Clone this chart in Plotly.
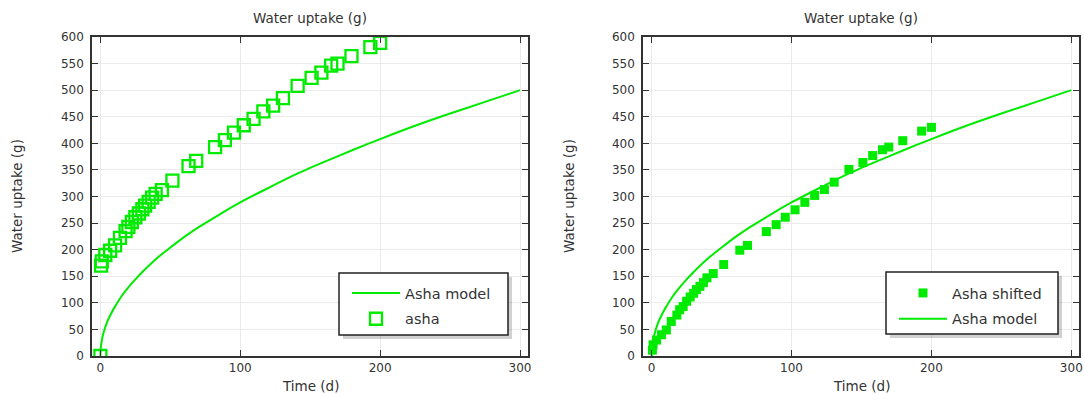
import plotly.graph_objects as go

# ---- data ----
model_t = [0, 0.25, 1, 2.5, 5, 7.5, 10, 15, 20, 25, 30, 40, 50, 60, 70, 80, 90, 100,
           120, 140, 160, 180, 200, 225, 250, 275, 300]
model_y = [0, 14, 29, 46, 65, 79, 91, 112, 129, 144, 158, 183, 204, 224, 242, 258, 274, 289,
           316, 342, 365, 387, 408, 433, 456, 478, 500]

time_d = [0.5, 1, 3.5, 7, 10.5, 14, 18, 20, 22.5, 25, 27.5, 30, 32, 34.5, 37, 39.5, 44, 51.5,
          63, 68.5, 82, 89, 95.5, 102.5, 109.5, 116.5, 123.5, 130.5, 141, 151, 158, 165, 169.5,
          179.5, 193, 200]
asha = [170, 178, 190, 198, 208, 222, 235, 243, 252, 261, 268, 276, 283, 290, 298, 305, 312, 330,
        357, 367, 393, 406, 420, 434, 446, 460, 471, 485, 508, 523, 533, 546, 550,
        564, 581, 589]
asha_origin_t = [0]
asha_origin_y = [0]
asha_shifted = [11, 21, 30, 40, 49, 65, 77, 87, 93, 103, 111, 118, 125, 131, 138, 147, 155, 172,
                199, 208, 234, 247, 261, 275, 289, 302, 313, 327, 351, 364, 377, 388, 393,
                405, 423, 430]

x_ticks = [0, 100, 200, 300]
y_ticks = list(range(0, 601, 50))

GREEN = "#00eb00"
FONT = "DejaVu Sans"
W, H = 1084, 394

def px(x):
    return x / W

def py(y):
    return 1 - y / H

fig = go.Figure()

# left panel
fig.add_trace(go.Scatter(x=model_t, y=model_y, mode="lines", name="Asha model",
                         line=dict(color=GREEN, width=2, shape="spline", smoothing=0.8),
                         xaxis="x", yaxis="y", legend="legend", legendgroup="a1"))
fig.add_trace(go.Scatter(x=asha_origin_t + time_d, y=asha_origin_y + asha, mode="markers", name="asha",
                         marker=dict(symbol="square-open", size=12, color=GREEN,
                                     line=dict(width=2.3, color=GREEN)),
                         xaxis="x", yaxis="y", legend="legend", legendgroup="a2"))
# right panel
fig.add_trace(go.Scatter(x=time_d, y=asha_shifted, mode="markers", name="Asha shifted",
                         marker=dict(symbol="square", size=9, color=GREEN),
                         xaxis="x2", yaxis="y2", legend="legend2", legendgroup="b1"))
fig.add_trace(go.Scatter(x=model_t, y=model_y, mode="lines", name="Asha model",
                         line=dict(color=GREEN, width=2, shape="spline", smoothing=0.8),
                         xaxis="x2", yaxis="y2", legend="legend2", legendgroup="b2"))

L = (92, 528)
R = (643, 1079)
TOP, BOT = 37, 356

axis_common = dict(showline=True, linecolor="#333333", linewidth=1.5, mirror="allticks",
                   ticks="inside", ticklen=6, tickwidth=1.3, tickcolor="#333333",
                   showgrid=True, gridcolor="#ebebeb", gridwidth=1, zeroline=False,
                   automargin=False,
                   tickfont=dict(family=FONT, size=12, color="#333333"))

legend_common = dict(xanchor="left", yanchor="top", bgcolor="rgba(0,0,0,0)", borderwidth=0,
                     itemwidth=48, traceorder="grouped", tracegroupgap=4,
                     font=dict(family=FONT, size=14.5, color="#333333"))

fig.update_layout(
    width=W, height=H, autosize=False,
    margin=dict(l=0, r=0, t=0, b=0, pad=0),
    paper_bgcolor="white", plot_bgcolor="white",
    font=dict(family=FONT, color="#333333"),
    xaxis=dict(domain=[px(L[0]), px(L[1])], range=[-6, 305.7], tickvals=x_ticks,
               anchor="y", **axis_common),
    yaxis=dict(domain=[py(BOT), py(TOP)], range=[0, 600], tickvals=y_ticks,
               anchor="x", ticklabelstandoff=4, **axis_common),
    xaxis2=dict(domain=[px(R[0]), px(R[1])], range=[-6.2, 305.5], tickvals=x_ticks,
                anchor="y2", **axis_common),
    yaxis2=dict(domain=[py(BOT), py(TOP)], range=[0, 600], tickvals=y_ticks,
                anchor="x2", ticklabelstandoff=4, **axis_common),
    legend=dict(x=px(347), y=py(277), **legend_common),
    legend2=dict(x=px(894), y=py(277), **legend_common),
    showlegend=True,
)

# legend boxes with shadow
for (x0, x1, y0, y1) in [(339, 508, 273, 335), (886, 1058, 272, 334)]:
    fig.add_shape(type="rect", xref="paper", yref="paper",
                  x0=px(x0 + 4), x1=px(x1 + 4), y0=py(y1 + 4), y1=py(y0 + 4),
                  line=dict(width=0), fillcolor="rgba(0,0,0,0.18)", layer="above")
    fig.add_shape(type="rect", xref="paper", yref="paper",
                  x0=px(x0), x1=px(x1), y0=py(y1), y1=py(y0),
                  line=dict(width=1.5, color="#222222"), fillcolor="white", layer="above")

# titles
tfont = dict(family=FONT, size=13.5, color="#333333")
for (a, b) in [L, R]:
    fig.add_annotation(text="Water uptake (g)", xref="paper", yref="paper",
                       x=px((a + b) / 2), y=py(18), showarrow=False, font=tfont,
                       xanchor="center", yanchor="middle")
    fig.add_annotation(text="Time (d)", xref="paper", yref="paper",
                       x=px((a + b) / 2), y=py(386), showarrow=False, font=tfont,
                       xanchor="center", yanchor="middle")
for xc in [17, 569]:
    fig.add_annotation(text="Water uptake (g)", xref="paper", yref="paper",
                       x=px(xc), y=py(196), showarrow=False, font=tfont, textangle=-90,
                       xanchor="center", yanchor="middle")

fig.write_html("out.html")
